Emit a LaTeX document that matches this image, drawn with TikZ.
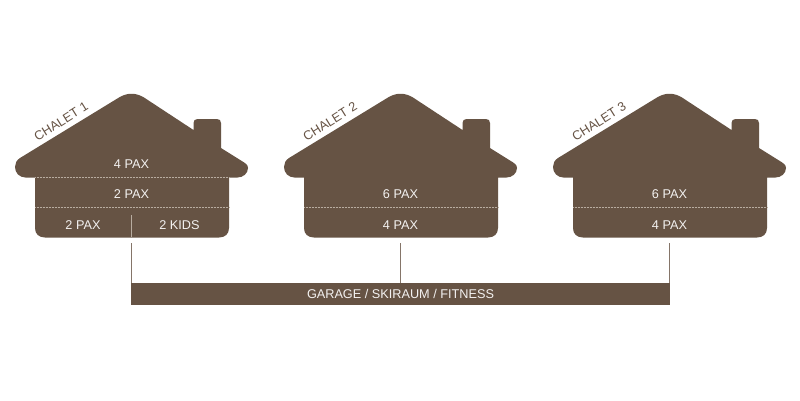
\documentclass[tikz,border=0pt]{standalone}
\usepackage{fontspec}
\setmainfont{Liberation Sans}
\definecolor{hbrown}{HTML}{665344}
\definecolor{hline}{HTML}{B8ACA0}
\newcommand{\labfont}{\fontsize{12.7}{14}\selectfont}
\tikzset{
  x=1pt,y=-1pt,
  housefill/.style={fill=hbrown,draw=none},
  lab/.style={text=white!92!hbrown,font=\labfont,inner sep=0pt,anchor=center},
  chaletlab/.style={text=hbrown,font=\labfont,inner sep=0pt,anchor=center,rotate=32},
  divider/.style={draw=hline,line width=0.5pt,densely dotted},
  vdivider/.style={draw=hline,line width=0.5pt},
  linkline/.style={draw=hbrown!80!white,line width=0.8pt},
  barbox/.style={fill=hbrown,inner sep=0pt,minimum width=539,minimum height=22,text=white!92!hbrown,font=\labfont},
}
\newcommand{\houseshape}{%
  \path[housefill]
    (119,97.5) .. controls (127,92.5) and (136,92.5) .. (144,97.5)
    -- (193.5,130) -- (193.5,123) .. controls (193.5,120.5) and (195,119) .. (197.5,119)
    -- (217,119) .. controls (219.5,119) and (221,120.5) .. (221,123)
    -- (221,148) -- (241,160.5) .. controls (245,163) and (248,164.5) .. (248,168)
    .. controls (248,173.5) and (243,177.5) .. (237.5,177.5)
    -- (229,177.5) -- (229,228) .. controls (229,234) and (225,237.5) .. (219,237.5)
    -- (45,237.5) .. controls (39,237.5) and (35,234) .. (35,228)
    -- (35,177.5) -- (25.5,177.5) .. controls (19.5,177.5) and (15,173) .. (15,167)
    .. controls (15,163.5) and (16.5,160.2) .. (20,158) -- cycle;
}
\begin{document}
\begin{tikzpicture}
\useasboundingbox (0,0) rectangle (800,400);
\fill[white] (0,0) rectangle (800,400);
% chalet 1
\begin{scope}
  \houseshape
  \draw[divider] (35,177.5) -- (229,177.5);
  \draw[divider] (35,207.5) -- (229,207.5);
  \draw[vdivider] (131.5,215) -- (131.5,237);
  \node[chaletlab] (c1) at (61,121.5) {CHALET 1};
  \node[lab] (a1) at (131.5,164) {4 PAX};
  \node[lab] (a2) at (131.5,194.5) {2 PAX};
  \node[lab] (a3) at (83,225) {2 PAX};
  \node[lab] (a4) at (179.5,225) {2 KIDS};
\end{scope}
% chalet 2
\begin{scope}[xshift=269pt]
  \houseshape
  \draw[divider] (35,207.5) -- (229,207.5);
  \node[chaletlab] (c2) at (61,121.5) {CHALET 2};
  \node[lab] (b1) at (131.5,194.5) {6 PAX};
  \node[lab] (b2) at (131.5,225) {4 PAX};
\end{scope}
% chalet 3
\begin{scope}[xshift=538pt]
  \houseshape
  \draw[divider] (35,207.5) -- (229,207.5);
  \node[chaletlab] (c3) at (61,121.5) {CHALET 3};
  \node[lab] (d1) at (131.5,194.5) {6 PAX};
  \node[lab] (d2) at (131.5,225) {4 PAX};
\end{scope}
\node[barbox] (bar) at (400.5,294) {\raisebox{-0.6pt}{GARAGE / SKIRAUM / FITNESS}};
\coordinate (f1) at (131.5,243);
\coordinate (f2) at (400.5,243);
\coordinate (f3) at (669.5,243);
\draw[linkline] (f1) -- (f1 |- bar.north);
\draw[linkline] (f2) -- (f2 |- bar.north);
\draw[linkline] (f3) -- (f3 |- bar.north);
\end{tikzpicture}
\end{document}
